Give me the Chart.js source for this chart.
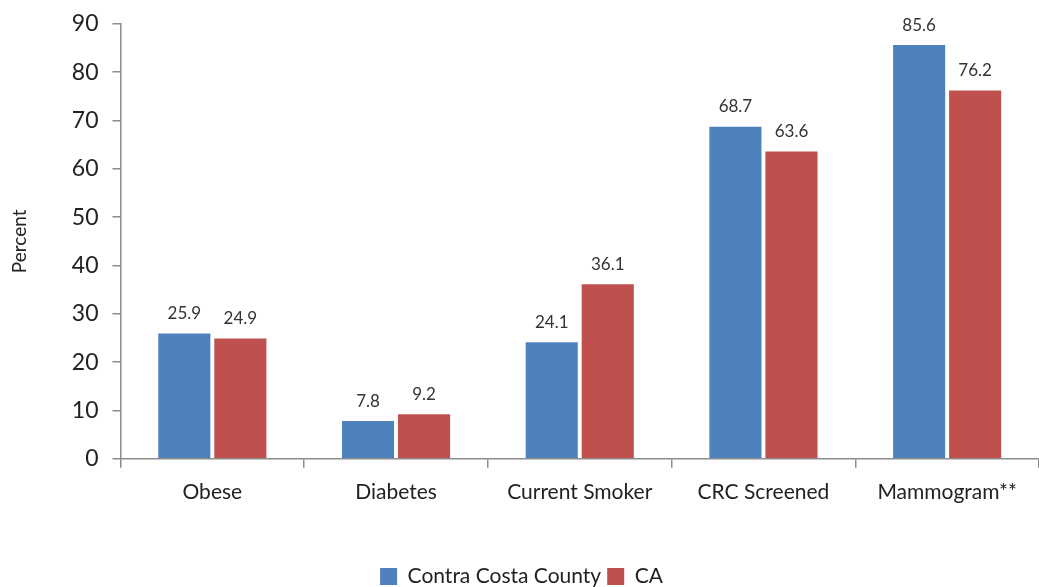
<!DOCTYPE html>
<html>
<head>
<meta charset="utf-8">
<script src="https://cdn.jsdelivr.net/npm/chart.js@4.4.1/dist/chart.umd.min.js"></script>
<style>
  html, body { margin: 0; padding: 0; background: #fff; }
  #wrap { width: 1039px; height: 587px; }
</style>
</head>
<body>
<div id="wrap"><canvas id="chart"></canvas></div>
<script>
var categories = ['Obese', 'Diabetes', 'Current Smoker', 'CRC Screened', 'Mammogram**'];
var contraCosta = [25.9, 7.8, 24.1, 68.7, 85.6];
var california = [24.9, 9.2, 36.1, 63.6, 76.2];
var yTicks = [0, 10, 20, 30, 40, 50, 60, 70, 80, 90];

var fontFamily = 'Lato, "DejaVu Sans", sans-serif';
var axisGrey = '#8c8c8c';

// draw value above each bar
var valueLabels = {
    id: 'valueLabels',
    afterDatasetsDraw: function(chart) {
        var ctx = chart.ctx;
        ctx.save();
        ctx.font = '17px ' + fontFamily;
        ctx.fillStyle = '#333';
        ctx.textAlign = 'center';
        ctx.textBaseline = 'middle';
        chart.data.datasets.forEach(function(ds, i) {
            chart.getDatasetMeta(i).data.forEach(function(bar, j) {
                ctx.fillText(ds.data[j].toFixed(1), bar.x, bar.y - 20);
            });
        });
        ctx.restore();
    }
};

var ctx = document.getElementById('chart');
new Chart(ctx, {
    type: 'bar',
    data: {
        labels: categories,
        datasets: [
            { label: 'Contra Costa County', data: contraCosta, backgroundColor: '#4F81BD',
              barPercentage: 0.93, categoryPercentage: 0.61 },
            { label: 'CA', data: california, backgroundColor: '#C0504D',
              barPercentage: 0.93, categoryPercentage: 0.61 }
        ]
    },
    plugins: [valueLabels],
    options: {
        responsive: true,
        maintainAspectRatio: false,
        animation: false,
        layout: { padding: { top: 0, right: 0, left: 4, bottom: -10 } },
        plugins: {
            legend: {
                position: 'bottom',
                labels: {
                    font: { family: fontFamily, size: 21 },
                    color: '#222',
                    boxWidth: 17,
                    boxHeight: 17,
                    padding: 6
                }
            },
            tooltip: { enabled: false }
        },
        scales: {
            x: {
                grid: { offset: true, drawOnChartArea: false, color: axisGrey, tickLength: 9, lineWidth: 1.5 },
                border: { color: axisGrey, width: 1.5 },
                ticks: { font: { family: fontFamily, size: 21 }, color: '#222', padding: 12, maxRotation: 0 },
                afterFit: function(scale) { scale.height += 43; }
            },
            y: {
                min: 0,
                max: 90,
                afterBuildTicks: function(scale) {
                    scale.ticks = yTicks.map(function(v) { return { value: v }; });
                },
                grid: { drawOnChartArea: false, color: axisGrey, tickLength: 8, lineWidth: 1.5 },
                border: { color: axisGrey, width: 1.5 },
                ticks: { font: { family: fontFamily, size: 23, lineHeight: 0.85 }, color: '#222', padding: 14 },
                title: { display: true, text: 'Percent', font: { family: fontFamily, size: 19 }, color: '#222', padding: { bottom: 27 } }
            }
        }
    }
});
</script>
</body>
</html>
